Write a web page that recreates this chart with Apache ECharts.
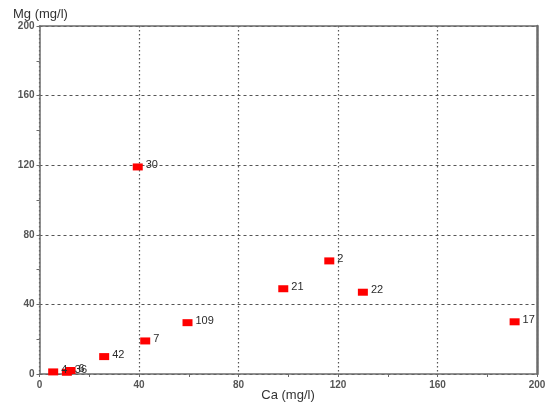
<!DOCTYPE html>
<html>
<head>
<meta charset="utf-8">
<script src="https://cdn.jsdelivr.net/npm/echarts@6/dist/echarts.min.js"></script>
<style>
  html, body { margin: 0; padding: 0; background: #fff; }
  #chart { width: 551px; height: 405px; }
</style>
</head>
<body>
<div id="chart"></div>
<script>
// Sample identifiers with calcium and magnesium concentrations (mg/l)
const sampleIds = ['4', '36', '6', '42', '7', '30', '109', '21', '2', '22', '17'];
const caValues  = [5.5, 11, 12.5, 26, 42.5, 39.5, 59.5, 98, 116.5, 130, 191];
const mgValues  = [1.2, 1, 2, 10, 19, 119, 29.5, 49, 65, 47, 30];
const axisTicks = [0, 40, 80, 120, 160, 200];
const xTitle = 'Ca (mg/l)';
const yTitle = 'Mg (mg/l)';

const points = sampleIds.map((id, i) => [caValues[i], mgValues[i], id]);

const axisColor = '#6b6b6b';
const fontFamily = 'Liberation Sans, Arial, sans-serif';
const tickFont = { fontFamily, fontSize: 10, color: '#555', fontWeight: 'bold' };

const chart = echarts.init(document.getElementById('chart'));
chart.setOption({
  animation: false,
  backgroundColor: '#fff',
  grid: { left: 39.5, right: 14, top: 26, bottom: 31, containLabel: false, outerBoundsMode: 'none' },
  graphic: [{
    type: 'text', x: 288, y: 395,
    style: { text: xTitle, fontFamily, fontSize: 13, fill: '#333', textAlign: 'center', textVerticalAlign: 'middle' }
  }, {
    type: 'text', x: 13, y: 14,
    style: { text: yTitle, fontFamily, fontSize: 13, fill: '#333', textAlign: 'left', textVerticalAlign: 'middle' }
  }],
  xAxis: [{
    type: 'value', min: axisTicks[0], max: axisTicks[axisTicks.length - 1], interval: 40,
    axisLine: { show: true, lineStyle: { color: axisColor, width: 1.5 } },
    axisTick: { show: true, length: 3, lineStyle: { color: axisColor } },
    minorTick: { show: true, splitNumber: 2, length: 3, lineStyle: { color: axisColor } },
    axisLabel: Object.assign({ margin: 6 }, tickFont),
    splitLine: { show: true, lineStyle: { color: '#555', type: [1.5, 2.5], width: 1.2 } }
  }, {
    type: 'value', position: 'top', min: 0, max: 200,
    axisLine: { show: true, onZero: false, lineStyle: { color: axisColor, width: 1.5 } },
    axisTick: { show: false }, axisLabel: { show: false }, splitLine: { show: false }
  }],
  yAxis: [{
    type: 'value', min: axisTicks[0], max: axisTicks[axisTicks.length - 1], interval: 40,
    axisLine: { show: true, lineStyle: { color: axisColor, width: 1.5 } },
    axisTick: { show: true, length: 3, lineStyle: { color: axisColor } },
    minorTick: { show: true, splitNumber: 2, length: 3, lineStyle: { color: axisColor } },
    axisLabel: Object.assign({ margin: 5 }, tickFont),
    splitLine: { show: true, lineStyle: { color: '#555', type: [3, 3], width: 1 } }
  }, {
    type: 'value', position: 'right', min: 0, max: 200,
    axisLine: { show: true, onZero: false, lineStyle: { color: axisColor, width: 2.5 } },
    axisTick: { show: false }, axisLabel: { show: false }, splitLine: { show: false }
  }],
  series: [{
    type: 'scatter',
    xAxisIndex: 0, yAxisIndex: 0,
    data: points,
    symbol: 'rect',
    symbolSize: [10, 7],
    itemStyle: { color: '#ff0000', opacity: 1 },
    label: {
      show: true, position: 'right', distance: 3, offset: [0, -2],
      formatter: p => p.data[2],
      fontFamily, fontSize: 11, color: '#2a2a2a'
    }
  }]
});
</script>
</body>
</html>
